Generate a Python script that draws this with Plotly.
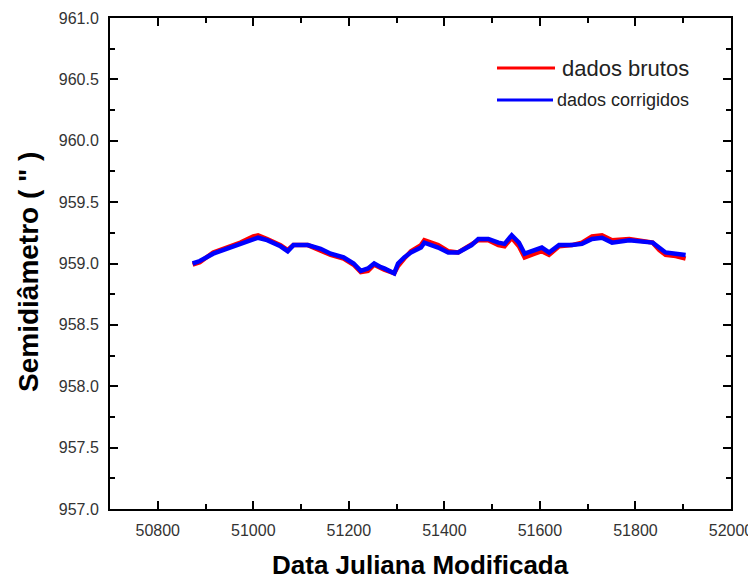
import plotly.graph_objects as go

mjd = [50873, 50888, 50916, 50937, 50973, 51000, 51010, 51029, 51057, 51072,
       51084, 51114, 51141, 51162, 51189, 51210, 51225, 51240, 51253, 51267,
       51274, 51295, 51303, 51316, 51330, 51351, 51358, 51387, 51408, 51429,
       51457, 51471, 51492, 51513, 51526, 51541, 51556, 51568, 51589, 51604,
       51619, 51640, 51667, 51688, 51709, 51730, 51751, 51787, 51836, 51850,
       51863, 51884, 51905]

brutos = [958.99, 959.01, 959.09, 959.12, 959.17, 959.22, 959.23, 959.20, 959.15, 959.11,
          959.15, 959.15, 959.11, 959.07, 959.04, 958.99, 958.93, 958.94, 958.99, 958.96,
          958.95, 958.92, 958.98, 959.04, 959.10, 959.15, 959.19, 959.15, 959.10, 959.09,
          959.15, 959.19, 959.19, 959.15, 959.14, 959.21, 959.14, 959.05, 959.08, 959.10,
          959.07, 959.14, 959.15, 959.17, 959.22, 959.23, 959.19, 959.20, 959.17, 959.11,
          959.07, 959.06, 959.04]

corrigidos = [959.00, 959.02, 959.08, 959.11, 959.16, 959.20, 959.21, 959.19, 959.14, 959.10,
              959.15, 959.15, 959.12, 959.08, 959.05, 959.00, 958.94, 958.96, 959.00, 958.97,
              958.96, 958.92, 959.00, 959.05, 959.09, 959.13, 959.17, 959.13, 959.09, 959.09,
              959.15, 959.20, 959.20, 959.17, 959.16, 959.23, 959.17, 959.08, 959.11, 959.13,
              959.09, 959.15, 959.15, 959.16, 959.20, 959.21, 959.17, 959.19, 959.17, 959.13,
              959.09, 959.08, 959.07]

x_ticks = [50800, 51000, 51200, 51400, 51600, 51800, 52000]
y_ticks = [957.0, 957.5, 958.0, 958.5, 959.0, 959.5, 960.0, 960.5, 961.0]

fig = go.Figure()
fig.add_trace(go.Scatter(x=mjd, y=brutos, mode="lines", line=dict(color="#ff0000", width=4.5),
                         name="dados brutos", showlegend=False))
fig.add_trace(go.Scatter(x=mjd, y=corrigidos, mode="lines", line=dict(color="#0000ff", width=4.5),
                         name="dados corrigidos", showlegend=False))

tickfont = dict(family="Liberation Sans, Arial, sans-serif", size=16, color="#333333")
axis_common = dict(showgrid=False, zeroline=False, showline=True, linecolor="black", linewidth=2,
                   ticks="inside", mirror="ticks", tickcolor="black", tickwidth=2, ticklen=8,
                   tickfont=tickfont, automargin=False)

fig.update_xaxes(range=[50700, 52000], tickvals=x_ticks, tickformat="d", ticklabelstandoff=6,
                 minor=dict(dtick=100, tick0=50700, ticks="inside", ticklen=5, tickwidth=2, tickcolor="black"),
                 **axis_common)
fig.update_yaxes(range=[957.0, 961.0], tickvals=y_ticks, tickformat=".1f", ticklabelstandoff=6,
                 minor=dict(dtick=0.25, tick0=957.0, ticks="inside", ticklen=5, tickwidth=2, tickcolor="black"),
                 **axis_common)

# page body has an 8px offset: plot area target is x 110..731, y 18..509 in the window
W, H = 748, 573
L, T = 102, 10
R, B = W - (731 - 8), H - (509 - 8)
pw, ph = W - L - R, H - T - B


def px(xw):
    return (xw - 8 - L) / pw


def py(yw):
    return 1 - (yw - 8 - T) / ph


xtitle_font = dict(family="Liberation Sans, Arial, sans-serif", size=26, color="black")
ytitle_font = dict(family="Liberation Sans, Arial, sans-serif", size=28, color="black")

annotations = [
    dict(text="<b>Data Juliana Modificada</b>", xref="paper", yref="paper", x=px(420), y=py(565),
         xanchor="center", yanchor="middle", showarrow=False, font=xtitle_font),
    dict(text="<b>Semidiâmetro ( \" )</b>", xref="paper", yref="paper", x=px(28), y=py(272),
         xanchor="center", yanchor="middle", textangle=-90, showarrow=False, font=ytitle_font),
    dict(text="dados brutos", xref="paper", yref="paper", x=px(560), y=py(68),
         xanchor="left", yanchor="middle", showarrow=False,
         font=dict(family="Liberation Sans, Arial, sans-serif", size=22, color="#222222")),
    dict(text="dados corrigidos", xref="paper", yref="paper", x=px(555), y=py(100),
         xanchor="left", yanchor="middle", showarrow=False,
         font=dict(family="Liberation Sans, Arial, sans-serif", size=18, color="#222222")),
]

shapes = [
    dict(type="line", xref="paper", yref="paper", x0=px(497), x1=px(555),
         y0=py(68), y1=py(68), line=dict(color="#ff0000", width=3)),
    dict(type="line", xref="paper", yref="paper", x0=px(497), x1=px(553),
         y0=py(100), y1=py(100), line=dict(color="#0000ff", width=3)),
]

fig.update_layout(width=W, height=H, margin=dict(l=L, r=R, t=T, b=B),
                  plot_bgcolor="white", paper_bgcolor="white",
                  annotations=annotations, shapes=shapes, showlegend=False)

fig.write_html("out.html")
